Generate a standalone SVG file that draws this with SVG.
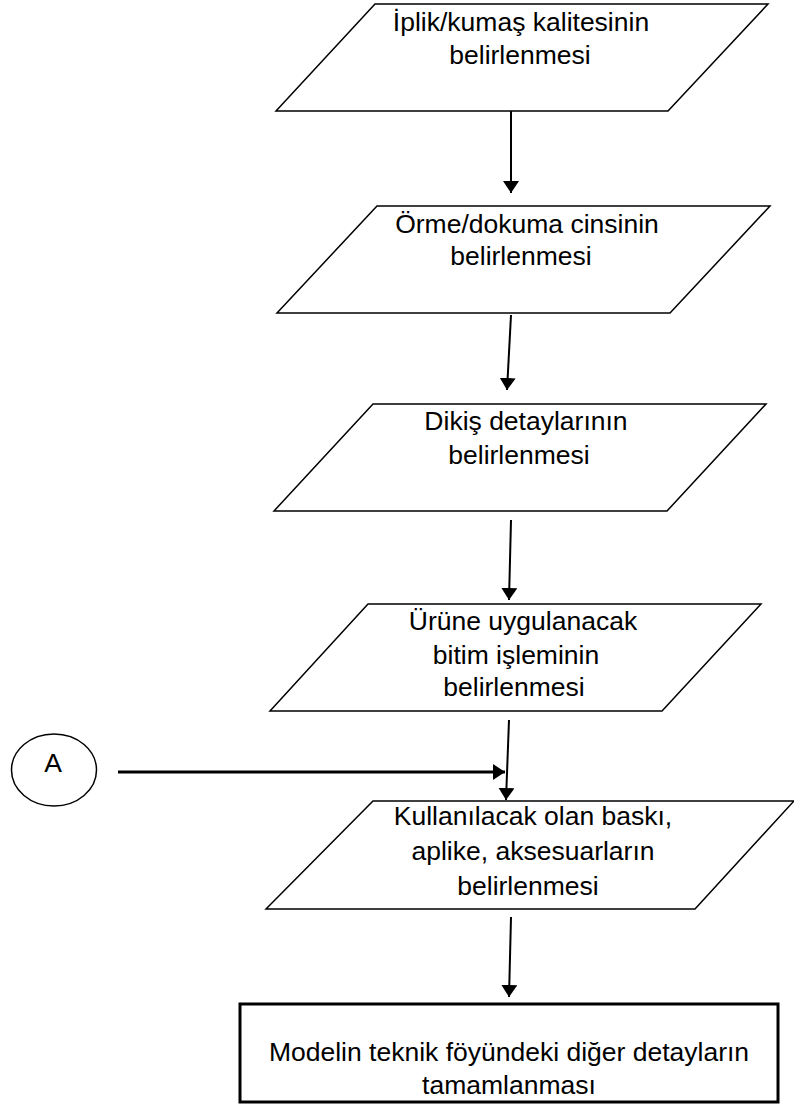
<svg xmlns="http://www.w3.org/2000/svg" width="794" height="1108" viewBox="0 0 794 1108">
  <style>
    .shape { fill: #ffffff; stroke: #000000; stroke-width: 1.5; }
    .box { fill: #ffffff; stroke: #000000; stroke-width: 3; }
    .label { font-family: "Liberation Sans", Arial, sans-serif; font-size: 26.5px; fill: #000000; text-anchor: middle; }
    .flow { stroke: #000000; stroke-width: 2; fill: none; marker-end: url(#head); }
    .flow-thick { stroke: #000000; stroke-width: 3; fill: none; marker-end: url(#head); }
  </style>
  <defs>
    <marker id="head" markerUnits="userSpaceOnUse" markerWidth="12" markerHeight="16" refX="12" refY="8" orient="auto">
      <path d="M0,0 L12,8 L0,16 Z" fill="#000000"/>
    </marker>
  </defs>
  <rect width="794" height="1108" fill="#ffffff"/>

  <!-- step 1 -->
  <g id="node-iplik">
    <polygon class="shape" points="375,4 768,4 668,111 276,111"/>
    <text class="label" x="521" y="31">İplik/kumaş kalitesinin</text>
    <text class="label" x="520" y="64">belirlenmesi</text>
  </g>

  <!-- step 2 -->
  <g id="node-orme">
    <polygon class="shape" points="377,206 770,206 670,313 277,313"/>
    <text class="label" x="527" y="233">Örme/dokuma cinsinin</text>
    <text class="label" x="521" y="265">belirlenmesi</text>
  </g>

  <!-- step 3 -->
  <g id="node-dikis">
    <polygon class="shape" points="373,404 766,404 667,511 274,511"/>
    <text class="label" x="526" y="430">Dikiş detaylarının</text>
    <text class="label" x="519" y="464">belirlenmesi</text>
  </g>

  <!-- step 4 -->
  <g id="node-bitim">
    <polygon class="shape" points="368,604 761,604 662,711 270,711"/>
    <text class="label" x="523" y="630">Ürüne uygulanacak</text>
    <text class="label" x="516" y="664">bitim işleminin</text>
    <text class="label" x="514" y="696">belirlenmesi</text>
  </g>

  <!-- step 5 -->
  <g id="node-baski">
    <polygon class="shape" points="373,801 794,801 695,909 266,909"/>
    <text class="label" x="533" y="825">Kullanılacak olan baskı,</text>
    <text class="label" x="533" y="860">aplike, aksesuarların</text>
    <text class="label" x="528" y="895">belirlenmesi</text>
  </g>

  <!-- final step -->
  <g id="node-model">
    <rect class="box" x="240" y="1004" width="538" height="98"/>
    <text class="label" x="509" y="1061">Modelin teknik föyündeki diğer detayların</text>
    <text class="label" x="509" y="1094">tamamlanması</text>
  </g>

  <!-- off-page connector -->
  <g id="node-a">
    <ellipse class="shape" cx="54" cy="770" rx="42.5" ry="36"/>
    <text class="label" x="53" y="772">A</text>
  </g>

  <g id="connectors">
    <line class="flow" x1="511" y1="111" x2="511" y2="193"/>
    <line class="flow" x1="511" y1="315" x2="507" y2="390"/>
    <line class="flow" x1="511" y1="520" x2="509" y2="600"/>
    <line class="flow" x1="509" y1="720" x2="506" y2="800"/>
    <line class="flow-thick" x1="118" y1="772" x2="505" y2="772"/>
    <line class="flow" x1="511" y1="917" x2="509" y2="997"/>
  </g>
</svg>
